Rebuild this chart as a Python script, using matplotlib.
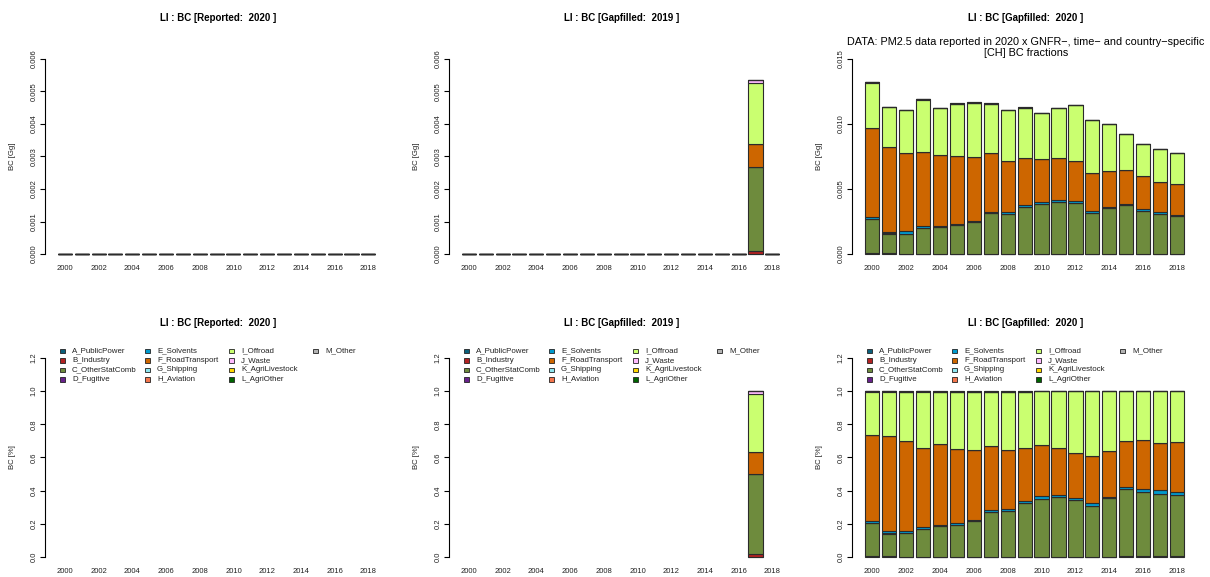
"""LI : BC emissions by GNFR sector - reported vs gapfilled, absolute and shares."""

import numpy as np
import matplotlib
matplotlib.use("Agg")
import matplotlib.pyplot as plt
from matplotlib.patches import Rectangle

plt.rcParams["font.family"] = ["Liberation Sans", "DejaVu Sans"]

W, H = 1210, 577

years = list(range(2000, 2019))
sectors = ["A_PublicPower", "B_Industry", "C_OtherStatComb", "D_Fugitive",
           "E_Solvents", "F_RoadTransport", "G_Shipping", "H_Aviation",
           "I_Offroad", "J_Waste", "K_AgriLivestock", "L_AgriOther", "M_Other"]
colors = ["#0B5F7A", "#B22222", "#6E8B3D", "#68228B", "#009ACD", "#CD6600",
          "#8EE5EE", "#F4764C", "#CAFF70", "#FFBBFF", "#FFD700", "#006400",
          "#B3B3B3"]

# Reported 2020: nothing reported for BC (Gg), all zero
reported_2020 = {s: [0.0] * 19 for s in sectors}

# Gapfilled 2019: only 2017 has values (1e-3 Gg)
gap2019_B = [0] * 17 + [0.10, 0]
gap2019_C = [0] * 17 + [2.58, 0]
gap2019_F = [0] * 17 + [0.71, 0]
gap2019_I = [0] * 17 + [1.86, 0]
gap2019_J = [0] * 17 + [0.10, 0]

# Gapfilled 2020 (1e-3 Gg)
gap2020_A = [0.08, 0.08, 0.03, 0.03, 0.03, 0.03, 0.03, 0.03, 0.03, 0.03,
             0.03, 0.03, 0.03, 0.03, 0.03, 0.03, 0.03, 0.03, 0.03]
gap2020_C = [2.63, 1.50, 1.55, 2.01, 2.09, 2.24, 2.47, 3.11, 3.04, 3.62,
             3.80, 4.01, 3.93, 3.16, 3.52, 3.78, 3.29, 3.06, 2.88]
gap2020_D = [0, 0.05, 0, 0, 0, 0, 0, 0, 0, 0, 0, 0, 0, 0, 0, 0, 0, 0, 0]
gap2020_E = [0.15, 0.11, 0.18, 0.13, 0.08, 0.08, 0.08, 0.13, 0.15, 0.16,
             0.16, 0.15, 0.10, 0.16, 0.08, 0.07, 0.16, 0.16, 0.13]
gap2020_F = [6.83, 6.49, 6.03, 5.70, 5.44, 5.21, 4.91, 4.50, 3.94, 3.60,
             3.32, 3.20, 3.10, 2.91, 2.73, 2.61, 2.50, 2.32, 2.35]
gap2020_I = [3.45, 3.04, 3.25, 3.99, 3.58, 3.99, 4.14, 3.78, 3.88, 3.83,
             3.55, 3.85, 4.26, 4.01, 3.61, 2.76, 2.50, 2.53, 2.38]
gap2020_J = [0.06, 0.03, 0, 0.08, 0, 0, 0, 0, 0, 0, 0, 0, 0, 0, 0, 0, 0, 0, 0]
gap2020_L = [0, 0, 0.06, 0, 0.03, 0.03, 0.03, 0.03, 0.05, 0.04,
             0, 0, 0, 0, 0, 0, 0, 0, 0]


def table(**cols):
    """Build a sectors x years array (Gg) from the named sector columns."""
    out = np.zeros((len(sectors), len(years)))
    for key, vals in cols.items():
        out[sectors.index(next(s for s in sectors if s.startswith(key + "_")))] = vals
    return out * 1e-3


data_rep = np.array([reported_2020[s] for s in sectors])
data_2019 = table(B=gap2019_B, C=gap2019_C, F=gap2019_F, I=gap2019_I, J=gap2019_J)
data_2020 = table(A=gap2020_A, C=gap2020_C, D=gap2020_D, E=gap2020_E,
                  F=gap2020_F, I=gap2020_I, J=gap2020_J, L=gap2020_L)

titles = ["LI : BC [Reported:  2020 ]", "LI : BC [Gapfilled:  2019 ]",
          "LI : BC [Gapfilled:  2020 ]"]
datasets = [data_rep, data_2019, data_2020]
ytop = [0.006, 0.006, 0.015]
ysteps = [0.001, 0.001, 0.005]

# panel placement in pixels: left edge, right edge
cols_px = [(45, 391), (449, 795), (852, 1200)]
rows_px = [(51, 262), (350, 565)]

fig = plt.figure(figsize=(W / 100, H / 100), dpi=100)

centers = 0.7 + 1.2 * np.arange(len(years))
EDGE = "#2b2b2b"


def setup_axis(ax, top, step, ylabel):
    ax.set_xlim(0.2 - 0.912, 23 + 0.912)
    ax.set_ylim(-0.04 * top, top * 1.04)
    for sp in ("top", "right", "bottom"):
        ax.spines[sp].set_visible(False)
    ax.spines["left"].set_bounds(0, top)
    ax.spines["left"].set_linewidth(0.8)
    ticks = np.arange(0, top + step / 2, step)
    ax.set_yticks(ticks)
    fmt = "{:.3f}" if top < 0.1 else "{:.1f}"
    ax.set_yticklabels([fmt.format(t) for t in ticks], rotation=90,
                       va="center", fontsize=5.5, color="#222222")
    ax.tick_params(axis="y", length=3.5, width=0.8, pad=2)
    ax.set_xticks(centers[::2])
    ax.set_xticklabels([str(y) for y in years[::2]], fontsize=5.5,
                       color="#222222")
    ax.tick_params(axis="x", length=0, pad=2.5)
    ax.set_ylabel(ylabel, fontsize=5.6, color="#222222")
    ax.yaxis.set_label_coords(-29 / 346, 0.5)


def stack(ax, values):
    bottom = np.zeros(values.shape[1])
    for k in range(values.shape[0]):
        v = values[k]
        ok = ~np.isnan(v)
        ax.bar(centers[ok], v[ok], width=1.0, bottom=bottom[ok],
               color=colors[k], edgecolor=EDGE, linewidth=0.8)
        bottom = bottom + np.nan_to_num(v)


def legend(left_px, top_px):
    offs = [15, 100, 184, 268]
    for i, (name, col) in enumerate(zip(sectors, colors)):
        c, r = i // 4, i % 4
        x = left_px + offs[c]
        y = top_px + r * 9.4
        fig.add_artist(Rectangle((x / W, 1 - (y + 2.3) / H), 4.6 / W, 4.6 / H,
                                 transform=fig.transFigure, facecolor=col,
                                 edgecolor="#222222", linewidth=0.6))
        fig.text((x + 12) / W, 1 - y / H, name, fontsize=5.7,
                 ha="left", va="center", color="#222222")


for j in range(3):
    l, r = cols_px[j]
    for i in range(2):
        t, b = rows_px[i]
        ax = fig.add_axes((l / W, 1 - b / H, (r - l) / W, (b - t) / H))
        vals = datasets[j]
        if i == 0:
            setup_axis(ax, ytop[j], ysteps[j], "BC [Gg]")
            stack(ax, vals)
            fig.text((l + r) / 2 / W, 1 - 18 / H, titles[j], fontsize=7,
                     fontweight="bold", ha="center", va="center")
        else:
            setup_axis(ax, 1.2, 0.2, "BC [%]")
            tot = vals.sum(axis=0)
            with np.errstate(invalid="ignore", divide="ignore"):
                share = np.where(tot > 0, vals / tot, np.nan)
            stack(ax, share)
            fig.text((l + r) / 2 / W, 1 - 323 / H, titles[j], fontsize=7,
                     fontweight="bold", ha="center", va="center")
            legend(l, 351)

fig.text(1026 / W, 1 - 42 / H,
         "DATA: PM2.5 data reported in 2020 x GNFR\u2212, time\u2212 and country\u2212specific",
         fontsize=7.8, ha="center", va="center")
fig.text(1026 / W, 1 - 53 / H, "[CH] BC fractions", fontsize=7.8,
         ha="center", va="center")

fig.savefig("out.png", dpi=100)
